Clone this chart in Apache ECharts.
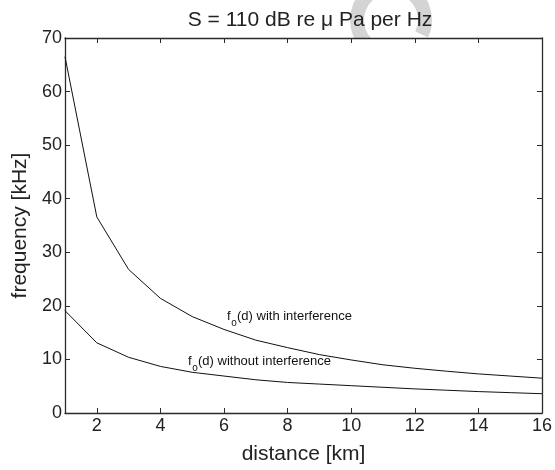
<!DOCTYPE html>
<html>
<head>
<meta charset="utf-8">
<script src="https://cdn.jsdelivr.net/npm/echarts@6/dist/echarts.min.js"></script>
<style>
html, body { margin: 0; padding: 0; background: #fff; }
#main { width: 555px; height: 470px; }
</style>
</head>
<body>
<div id="main"></div>
<script>
// distance [km]
var distance = [1, 2, 3, 4, 5, 6, 7, 8, 9, 10, 11, 12, 13, 14, 15, 16];
// f_o(d) with interference [kHz]
var withIntf = [66.5, 36.6, 26.8, 21.4, 18.0, 15.6, 13.6, 12.2, 10.9, 9.9, 9.0, 8.35, 7.8, 7.3, 6.9, 6.5];
// f_o(d) without interference [kHz]
var withoutIntf = [19.1, 13.1, 10.4, 8.7, 7.6, 6.9, 6.2, 5.7, 5.4, 5.1, 4.8, 4.5, 4.25, 4.0, 3.8, 3.6];
// tick values
var xTicks = [2, 4, 6, 8, 10, 12, 14, 16];
var yTicks = [0, 10, 20, 30, 40, 50, 60, 70];

var FONT = 'Liberation Sans, Arial, Helvetica, sans-serif';
var AXCOL = '#2b2b2b';

var myChart = echarts.init(document.getElementById('main'));

function pairs(ys) {
	var out = [];
	for (var i = 0; i < distance.length; i++) {
		out.push([distance[i], ys[i]]);
	}
	return out;
}

function xAxisCfg(pos, showLabel) {
	return {
		type : 'value',
		position : pos,
		min : 1,
		max : 16,
		name : showLabel ? 'distance [km]' : '',
		nameLocation : 'middle',
		nameGap : 31,
		nameTextStyle : { fontFamily : FONT, fontSize : 21, color : '#222' },
		axisLine : { onZero : false, lineStyle : { color : AXCOL, width : 1.3 } },
		axisTick : { inside : true, length : 5, customValues : xTicks, lineStyle : { color : AXCOL } },
		axisLabel : {
			show : showLabel,
			customValues : xTicks,
			margin : 4,
			fontFamily : FONT,
			fontSize : 18,
			color : '#222'
		},
		splitLine : { show : false }
	};
}

function yAxisCfg(pos, showLabel) {
	return {
		type : 'value',
		position : pos,
		min : 0,
		max : 70,
		interval : 10,
		name : showLabel ? 'frequency [kHz]' : '',
		nameLocation : 'middle',
		nameGap : 34,
		nameTextStyle : { fontFamily : FONT, fontSize : 21, color : '#222' },
		axisLine : { show : true, onZero : false, lineStyle : { color : AXCOL, width : 1.3 } },
		axisTick : { show : true, inside : true, length : 5, lineStyle : { color : AXCOL } },
		axisLabel : {
			show : showLabel,
			margin : 3,
			fontFamily : FONT,
			fontSize : 18,
			color : '#222',
			formatter : function (v) { return yTicks.indexOf(v) >= 0 ? String(v) : ''; }
		},
		splitLine : { show : false }
	};
}

// curve labels (f with subscript o)
function curveLabel(x, y, txt) {
	return [
		{ type : 'text', x : x, y : y, z : 10,
			style : { text : 'f', font : '13px ' + FONT, fill : '#111', verticalAlign : 'middle' } },
		{ type : 'text', x : x + 4.3, y : y + 6.5, z : 10,
			style : { text : 'o', font : '10px ' + FONT, fill : '#111', verticalAlign : 'middle' } },
		{ type : 'text', x : x + 10, y : y, z : 10,
			style : { text : txt, font : '13px ' + FONT, fill : '#111', verticalAlign : 'middle' } }
	];
}

var gfx = [
	// grey ring behind the title
	{ type : 'sector', z : -10,
		shape : { cx : 391, cy : 20, r0 : 27, r : 41, startAngle : Math.PI / 2, endAngle : Math.PI * 2 + 0.44, clockwise : true },
		style : { fill : '#d4d4d4' } },
	// white plot area hides the ring below the box
	{ type : 'rect', z : -5,
		shape : { x : 65, y : 38, width : 480, height : 378 },
		style : { fill : '#fff' } }
].concat(curveLabel(227, 316.5, '(d) with interference'))
 .concat(curveLabel(188, 361.5, '(d) without interference'));

var option = {
	backgroundColor : '#fff',
	animation : false,
	title : {
		text : 'S = 110 dB re \u03bc Pa per Hz',
		left : 305,
		textAlign : 'center',
		top : 5,
		textStyle : { fontFamily : FONT, fontSize : 21, fontWeight : 'normal', color : '#222' }
	},
	grid : { left : 65, right : 10, top : 38, bottom : 54 },
	graphic : gfx,
	xAxis : [ xAxisCfg('bottom', true), xAxisCfg('top', false) ],
	yAxis : [ yAxisCfg('left', true), yAxisCfg('right', false) ],
	series : [
		{
			name : 'with interference',
			type : 'line',
			data : pairs(withIntf),
			showSymbol : false,
			lineStyle : { color : '#111', width : 1 },
			z : 3
		},
		{
			name : 'without interference',
			type : 'line',
			data : pairs(withoutIntf),
			showSymbol : false,
			lineStyle : { color : '#111', width : 1 },
			z : 3
		}
	]
};
myChart.setOption(option);
</script>
</body>
</html>
